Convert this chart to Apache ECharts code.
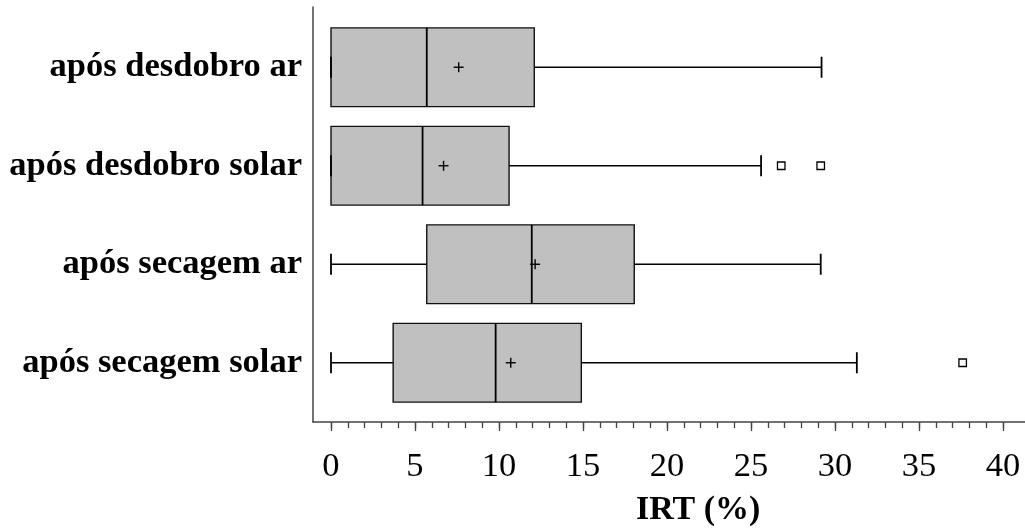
<!DOCTYPE html>
<html>
<head>
<meta charset="utf-8">
<title>IRT (%)</title>
<script src="https://cdn.jsdelivr.net/npm/echarts@6/dist/echarts.min.js"></script>
<style>
  html, body { margin: 0; padding: 0; background: #fff; }
  #chart { width: 1025px; height: 531px; }
</style>
</head>
<body>
<div id="chart"></div>
<script>
// Box-plot summary per treatment (IRT, %)
const categories = ['após desdobro ar', 'após desdobro solar', 'após secagem ar', 'após secagem solar'];
const whiskerLow  = [0, 0, 0, 0];
const q1          = [0, 0, 5.7, 3.7];
const median      = [5.7, 5.45, 11.95, 9.8];
const q3          = [12.1, 10.6, 18.05, 14.9];
const whiskerHigh = [29.2, 25.6, 29.15, 31.3];
const mean        = [7.6, 6.7, 12.15, 10.7];
// Outliers as [category index, value]
const outliers = [[1, 26.8], [1, 29.15], [3, 37.6]];

// Axis ticks
const majorTicks = [0, 5, 10, 15, 20, 25, 30, 35, 40];
const minorTicks = [];
for (let v = 0; v <= 40; v++) minorTicks.push(v);

// Visible axis range (the frame reaches a little past 0 and 40)
const X_MIN = -1.0714;
const X_MAX = 41.31;

const SERIF = "'Liberation Serif', 'Times New Roman', serif";
const AXIS_COLOR = '#444';

const boxData = categories.map((c, i) =>
  [i, whiskerLow[i], q1[i], median[i], q3[i], whiskerHigh[i], mean[i]]);
const outlierData = outliers.map(o => [o[1], o[0]]);

function renderBox(params, api) {
  const cat = api.value(0);
  const band = api.size([0, 1])[1];
  const boxH = band * 0.8;
  const capH = 21;
  const plus = 5;
  const pLow = api.coord([api.value(1), cat]);
  const pQ1 = api.coord([api.value(2), cat]);
  const pMed = api.coord([api.value(3), cat]);
  const pQ3 = api.coord([api.value(4), cat]);
  const pHigh = api.coord([api.value(5), cat]);
  const pMean = api.coord([api.value(6), cat]);
  const yc = pMed[1];
  const line = (x1, y1, x2, y2, w) => ({
    type: 'line',
    shape: { x1, y1, x2, y2 },
    style: { stroke: '#000', lineWidth: w }
  });
  return {
    type: 'group',
    children: [
      line(pLow[0], yc, pQ1[0], yc, 1.5),
      line(pQ3[0], yc, pHigh[0], yc, 1.5),
      {
        type: 'rect',
        shape: { x: pQ1[0], y: yc - boxH / 2, width: pQ3[0] - pQ1[0], height: boxH },
        style: { fill: '#c0c0c0', stroke: '#111', lineWidth: 1.4 }
      },
      line(pMed[0], yc - boxH / 2, pMed[0], yc + boxH / 2, 1.8),
      line(pLow[0], yc - capH / 2, pLow[0], yc + capH / 2, 1.8),
      line(pHigh[0], yc - capH / 2, pHigh[0], yc + capH / 2, 1.8),
      line(pMean[0] - plus, pMean[1], pMean[0] + plus, pMean[1], 1.4),
      line(pMean[0], pMean[1] - plus, pMean[0], pMean[1] + plus, 1.4)
    ]
  };
}

const chart = echarts.init(document.getElementById('chart'), null, { renderer: 'canvas' });
chart.setOption({
  animation: false,
  backgroundColor: '#fff',
  title: {
    text: 'IRT (%)',
    left: 636,
    top: 493,
    padding: 0,
    textStyle: { fontFamily: SERIF, fontWeight: 'bold', fontSize: 34, color: '#000' }
  },
  grid: [
    { left: 313, right: 0, top: 7, bottom: 109 },
    { left: 313, right: 0, top: 18, bottom: 119 }
  ],
  xAxis: [
    {
      gridIndex: 0, type: 'value', position: 'bottom', min: X_MIN, max: X_MAX,
      axisLine: { show: true, onZero: false, lineStyle: { color: AXIS_COLOR, width: 1.5 } },
      axisTick: { show: true, customValues: majorTicks, length: 9, lineStyle: { color: AXIS_COLOR, width: 1.3 } },
      axisLabel: {
        customValues: majorTicks, margin: 27,
        fontFamily: SERIF, fontSize: 34.5, color: '#000',
        formatter: v => String(v)
      },
      splitLine: { show: false }
    },
    {
      gridIndex: 0, type: 'value', position: 'bottom', offset: 0, min: X_MIN, max: X_MAX,
      axisLine: { show: false, onZero: false },
      axisTick: { show: true, customValues: minorTicks, length: 6, lineStyle: { color: AXIS_COLOR, width: 1.3 } },
      axisLabel: { show: false },
      splitLine: { show: false }
    },
    {
      gridIndex: 1, type: 'value', min: X_MIN, max: X_MAX, show: false,
      splitLine: { show: false }
    }
  ],
  yAxis: [
    {
      gridIndex: 0, type: 'value', min: 0, max: 1,
      axisLine: { show: true, onZero: false, lineStyle: { color: AXIS_COLOR, width: 1.5 } },
      axisTick: { show: false }, axisLabel: { show: false }, splitLine: { show: false }
    },
    {
      gridIndex: 1, type: 'category', data: categories, inverse: true,
      axisLine: { show: false }, axisTick: { show: false },
      axisLabel: { margin: 11, fontFamily: SERIF, fontWeight: 'bold', fontSize: 34.5, color: '#000' },
      splitLine: { show: false }
    }
  ],
  series: [
    {
      type: 'custom',
      xAxisIndex: 2, yAxisIndex: 1,
      renderItem: renderBox,
      encode: { x: [1, 2, 3, 4, 5, 6], y: 0 },
      data: boxData
    },
    {
      type: 'scatter',
      xAxisIndex: 2, yAxisIndex: 1,
      symbol: 'rect', symbolSize: 7.5,
      itemStyle: { color: '#fff', borderColor: '#000', borderWidth: 1.3, opacity: 1 },
      data: outlierData
    }
  ]
});
</script>
</body>
</html>
